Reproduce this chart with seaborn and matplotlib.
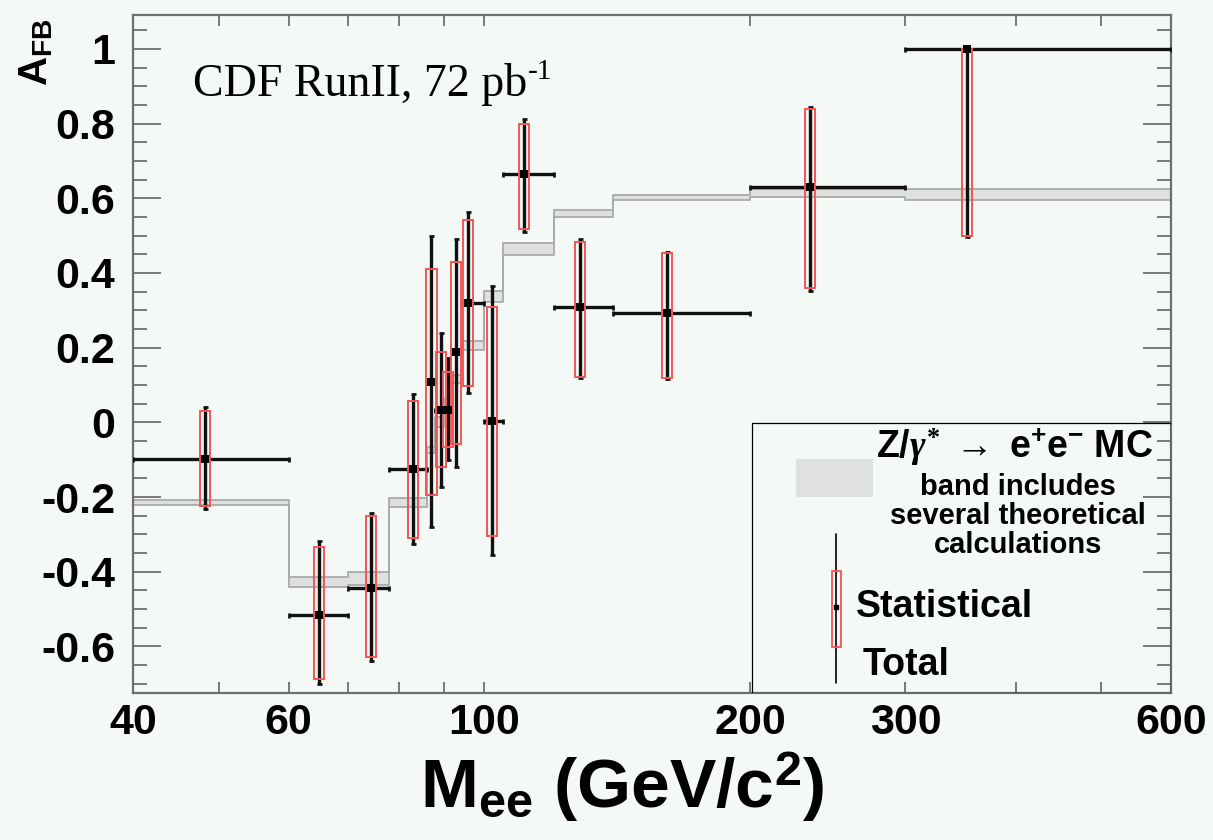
import matplotlib
matplotlib.use("Agg")
import matplotlib.pyplot as plt
from matplotlib.patches import Rectangle
from matplotlib.ticker import FixedLocator, FixedFormatter, NullFormatter, MultipleLocator, FuncFormatter
import seaborn as sns

# ---- mass bins (GeV/c^2) ----
bin_lo = [40, 60, 70, 78, 86, 88, 90, 92, 94, 100, 105, 120, 140, 200, 300]
bin_hi = [60, 70, 78, 86, 88, 90, 92, 94, 100, 105, 120, 140, 200, 300, 600]
mass_mean = [48.2, 64.9, 74.4, 82.9, 87.1, 89.2, 91.0, 92.9, 95.9, 102.1, 111.0, 128.2, 161.0, 234.0, 352.0]

# ---- measured A_FB with statistical and total uncertainties ----
afb = [-0.098, -0.516, -0.443, -0.126, 0.109, 0.033, 0.033, 0.187, 0.319, 0.004, 0.665, 0.310, 0.292, 0.631, 1.000]
stat_up = [0.128, 0.183, 0.193, 0.184, 0.301, 0.154, 0.102, 0.241, 0.223, 0.304, 0.135, 0.173, 0.162, 0.207, 0.000]
stat_dn = [0.127, 0.171, 0.186, 0.185, 0.304, 0.153, 0.098, 0.245, 0.222, 0.308, 0.148, 0.188, 0.172, 0.272, 0.501]
tot_up = [0.138, 0.199, 0.199, 0.202, 0.390, 0.207, 0.138, 0.303, 0.243, 0.361, 0.147, 0.180, 0.165, 0.212, 0.000]
tot_dn = [0.134, 0.184, 0.195, 0.200, 0.389, 0.205, 0.133, 0.306, 0.241, 0.359, 0.155, 0.192, 0.177, 0.279, 0.505]

# ---- Z/gamma* -> ee MC prediction band (per bin) ----
band_lo = [-0.222, -0.440, -0.435, -0.228, -0.082, -0.012, 0.042, 0.105, 0.194, 0.323, 0.448, 0.549, 0.595, 0.604, 0.595]
band_hi = [-0.208, -0.415, -0.400, -0.202, -0.065, 0.015, 0.066, 0.128, 0.218, 0.352, 0.479, 0.568, 0.610, 0.624, 0.624]

x_tick_vals = [40, 60, 100, 200, 300, 600]
x_tick_text = ["40", "60", "100", "200", "300", "600"]
x_minor_vals = [50, 70, 80, 90, 400, 500]

BG = "#f5f9f6"
BAND_FILL = "#dfe1df"
BAND_EDGE = "#a9aaa9"
STAT_RED = "#f25555"
INK = "#000000"
FRAME = "#6e6e6e"

sns.set_theme(style="ticks")
plt.rcParams.update({
    "font.family": ["Liberation Sans", "DejaVu Sans"],
    "font.weight": "bold",
    "text.color": INK,
    "xtick.labelcolor": INK,
    "ytick.labelcolor": INK,
    "axes.unicode_minus": False,
    "mathtext.fontset": "custom",
    "mathtext.rm": "Liberation Serif",
    "mathtext.it": "Liberation Serif:italic",
    "mathtext.bf": "Liberation Sans:bold",
    "figure.facecolor": BG,
    "axes.facecolor": BG,
    "savefig.facecolor": BG,
})

W, H = 1213, 840
fig = plt.figure(figsize=(W / 100, H / 100), dpi=100)
L, R, T, B = 133.3, 1171.0, 14.5, 693.3
ax = fig.add_axes([L / W, 1 - B / H, (R - L) / W, (B - T) / H])
ax.set_xscale("log")
ax.set_xlim(40, 600)
ax.set_ylim(-0.7256, 1.092)

# theory band as a stepped histogram
edges = bin_lo + [bin_hi[-1]]
lo_ext = band_lo + [band_lo[-1]]
hi_ext = band_hi + [band_hi[-1]]
ax.fill_between(edges, lo_ext, hi_ext, step="post", color=BAND_FILL, lw=0, zorder=1)
for yy in (lo_ext, hi_ext):
    sns.lineplot(x=edges, y=yy, drawstyle="steps-post", color=BAND_EDGE, lw=1.3,
                 estimator=None, sort=False, ax=ax, zorder=2)

# total uncertainty and bin width
xerr = [[m - lo for m, lo in zip(mass_mean, bin_lo)],
        [hi - m for m, hi in zip(mass_mean, bin_hi)]]
ax.errorbar(mass_mean, afb, xerr=xerr, yerr=[tot_dn, tot_up], fmt="none",
            ecolor="#111111", elinewidth=2.4, capsize=1.8, capthick=2.0, zorder=3)

# statistical uncertainty as an open red box (constant pixel width on log axis)
half = 10 ** 0.0057
for m, a, su, sd in zip(mass_mean, afb, stat_up, stat_dn):
    ax.add_patch(Rectangle((m / half, a - sd), m * half - m / half, su + sd,
                           fill=False, ec=STAT_RED, lw=1.4, zorder=4))

sns.scatterplot(x=mass_mean, y=afb, marker="s", s=36, color="black",
                linewidth=0, ax=ax, zorder=5)

# axes styling
for sp in ax.spines.values():
    sp.set_color(FRAME)
    sp.set_linewidth(1.6)
ax.xaxis.set_major_locator(FixedLocator(x_tick_vals))
ax.xaxis.set_major_formatter(FixedFormatter(x_tick_text))
ax.xaxis.set_minor_locator(FixedLocator(x_minor_vals))
ax.xaxis.set_minor_formatter(NullFormatter())
ax.yaxis.set_major_locator(MultipleLocator(0.2))
ax.yaxis.set_minor_locator(MultipleLocator(0.05))
ax.yaxis.set_major_formatter(FuncFormatter(lambda v, p: "%g" % round(v, 2)))
ax.tick_params(axis="x", which="both", direction="in", top=True, bottom=True,
               length=8, width=1.3, color=FRAME, labelsize=31, pad=7, labelcolor=INK)
ax.tick_params(axis="y", which="major", direction="in", left=True, right=True,
               length=20, width=1.3, color=FRAME, labelsize=31, pad=13, labelcolor=INK)
ax.tick_params(axis="y", which="minor", direction="in", left=True, right=True,
               length=10, width=1.3, color=FRAME)
for lab in ax.get_xticklabels() + ax.get_yticklabels():
    lab.set_fontweight("bold")
ax.set_xlabel("")
ax.set_ylabel("")

# axis titles
fig.text(36 / W, 1 - 18 / H, r"$\mathbf{A}_{\mathbf{FB}}$", rotation=90,
         ha="center", va="top", fontsize=29)
fig.text(622 / W, 1 - 808 / H, r"$\mathbf{M}_{\mathbf{ee}}$ (GeV/c$^{\mathbf{2}}$)",
         ha="center", va="baseline", fontsize=50, fontweight="bold")

# run label with a small superscript
run = fig.text(193 / W, 1 - 96 / H, "CDF RunII, 72 pb", family="Liberation Serif",
               fontweight="normal", fontsize=33, ha="left", va="baseline")
fig.canvas.draw()
ax.annotate("-1", xy=(1.0, 1.0), xycoords=run, xytext=(0.5, 3), textcoords="offset points",
            ha="left", va="top", family="Liberation Serif", fontweight="normal", fontsize=21)

# legend panel
ax.add_patch(Rectangle((0.596, 0.0), 0.404, 0.3987, transform=ax.transAxes,
                       fill=False, ec="black", lw=0.9, zorder=6))
ax.add_patch(Rectangle((0.6386, 0.2896), 0.0739, 0.0551, transform=ax.transAxes,
                       fc=BAND_FILL, ec="none", zorder=6))
ax.text(0.8497, 0.3628, r"$\mathbf{Z/}\gamma^{*}\ \rightarrow\ \mathbf{e^{+}e^{-}\ MC}$",
        transform=ax.transAxes, ha="center", va="center", fontsize=27, zorder=7)
for txt, yy in [("band includes", 0.3044), ("several theoretical", 0.2612), ("calculations", 0.2185)]:
    ax.text(0.8526, yy, txt, transform=ax.transAxes, ha="center", va="center",
            fontsize=21, fontweight="bold", zorder=7)
ax.plot([0.677, 0.677], [0.0147, 0.2347], transform=ax.transAxes, color=INK, lw=1.2, zorder=7)
ax.add_patch(Rectangle((0.6733, 0.0678), 0.009, 0.1122, transform=ax.transAxes,
                       fill=False, ec=STAT_RED, lw=1.3, zorder=7))
ax.plot([0.677], [0.1276], transform=ax.transAxes, marker="s", ms=3, color="black", zorder=8)
ax.text(0.6965, 0.1276, "Statistical", transform=ax.transAxes, ha="left", va="center",
        fontsize=27, fontweight="bold", zorder=7)
ax.text(0.7033, 0.0417, "Total", transform=ax.transAxes, ha="left", va="center",
        fontsize=27, fontweight="bold", zorder=7)

fig.savefig("out.png", dpi=100)
